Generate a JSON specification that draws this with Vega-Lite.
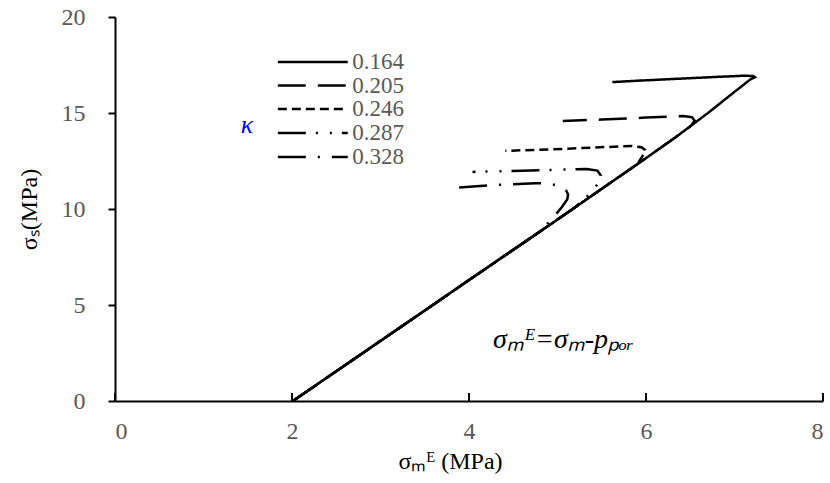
{
  "$schema": "https://vega.github.io/schema/vega-lite/v6.json",
  "width": 708,
  "height": 384,
  "autosize": {"type": "none"},
  "padding": {"left": 115, "top": 17, "right": 7, "bottom": 82},
  "background": "white",
  "config": {"view": {"stroke": null}},
  "datasets": {
    "curves": [
      {"k":"0.164","i":0,"x":2.01,"y":0},{"k":"0.164","i":1,"x":2.5,"y":1.55},{"k":"0.164","i":2,"x":3,"y":3.13},{"k":"0.164","i":3,"x":3.5,"y":4.71},{"k":"0.164","i":4,"x":4,"y":6.3},{"k":"0.164","i":5,"x":4.33,"y":7.34},{"k":"0.164","i":6,"x":4.8,"y":8.82},{"k":"0.164","i":7,"x":5,"y":9.45},{"k":"0.164","i":8,"x":5.2,"y":10.09},{"k":"0.164","i":9,"x":5.5,"y":11.05},{"k":"0.164","i":10,"x":5.84,"y":12.14},{"k":"0.164","i":11,"x":6.0,"y":12.65},{"k":"0.164","i":12,"x":6.33,"y":13.72},{"k":"0.164","i":13,"x":6.7,"y":15.0},{"k":"0.164","i":14,"x":7.0,"y":16.1},{"k":"0.164","i":15,"x":7.18,"y":16.75},{"k":"0.164","i":16,"x":7.23,"y":16.86},{"k":"0.164","i":17,"x":7.21,"y":16.93},{"k":"0.164","i":18,"x":7.1,"y":16.94},{"k":"0.164","i":19,"x":6.8,"y":16.88},{"k":"0.164","i":20,"x":6.3,"y":16.77},{"k":"0.164","i":21,"x":5.9,"y":16.68},{"k":"0.164","i":22,"x":5.62,"y":16.61},

      {"k":"0.205","i":0,"x":2.01,"y":0},{"k":"0.205","i":1,"x":2.5,"y":1.55},{"k":"0.205","i":2,"x":3,"y":3.13},{"k":"0.205","i":3,"x":3.5,"y":4.71},{"k":"0.205","i":4,"x":4,"y":6.3},{"k":"0.205","i":5,"x":4.33,"y":7.34},{"k":"0.205","i":6,"x":4.8,"y":8.82},{"k":"0.205","i":7,"x":5,"y":9.45},{"k":"0.205","i":8,"x":5.2,"y":10.09},{"k":"0.205","i":9,"x":5.5,"y":11.05},{"k":"0.205","i":10,"x":5.84,"y":12.14},{"k":"0.205","i":11,"x":6.0,"y":12.65},{"k":"0.205","i":12,"x":6.33,"y":13.72},{"k":"0.205","i":13,"x":6.5,"y":14.3},{"k":"0.205","i":14,"x":6.55,"y":14.6},{"k":"0.205","i":15,"x":6.52,"y":14.78},{"k":"0.205","i":16,"x":6.42,"y":14.84},{"k":"0.205","i":17,"x":6.0,"y":14.76},{"k":"0.205","i":18,"x":5.5,"y":14.66},{"k":"0.205","i":19,"x":5.06,"y":14.58},

      {"k":"0.246","i":0,"x":2.01,"y":0},{"k":"0.246","i":1,"x":2.5,"y":1.55},{"k":"0.246","i":2,"x":3,"y":3.13},{"k":"0.246","i":3,"x":3.5,"y":4.71},{"k":"0.246","i":4,"x":4,"y":6.3},{"k":"0.246","i":5,"x":4.33,"y":7.34},{"k":"0.246","i":6,"x":4.8,"y":8.82},{"k":"0.246","i":7,"x":5,"y":9.45},{"k":"0.246","i":8,"x":5.2,"y":10.09},{"k":"0.246","i":9,"x":5.5,"y":11.05},{"k":"0.246","i":10,"x":5.84,"y":12.14},{"k":"0.246","i":11,"x":5.91,"y":12.4},{"k":"0.246","i":12,"x":5.96,"y":12.75},{"k":"0.246","i":13,"x":5.99,"y":13.07},{"k":"0.246","i":14,"x":5.95,"y":13.22},{"k":"0.246","i":15,"x":5.84,"y":13.28},{"k":"0.246","i":16,"x":5.4,"y":13.2},{"k":"0.246","i":17,"x":4.9,"y":13.1},{"k":"0.246","i":18,"x":4.41,"y":13.03},

      {"k":"0.287","i":0,"x":2.01,"y":0},{"k":"0.287","i":1,"x":2.5,"y":1.55},{"k":"0.287","i":2,"x":3,"y":3.13},{"k":"0.287","i":3,"x":3.5,"y":4.71},{"k":"0.287","i":4,"x":4,"y":6.3},{"k":"0.287","i":5,"x":4.33,"y":7.34},{"k":"0.287","i":6,"x":4.8,"y":8.82},{"k":"0.287","i":7,"x":5,"y":9.45},{"k":"0.287","i":8,"x":5.2,"y":10.09},{"k":"0.287","i":9,"x":5.3,"y":10.5},{"k":"0.287","i":10,"x":5.39,"y":10.89},{"k":"0.287","i":11,"x":5.46,"y":11.35},{"k":"0.287","i":12,"x":5.49,"y":11.75},{"k":"0.287","i":13,"x":5.45,"y":12.0},{"k":"0.287","i":14,"x":5.33,"y":12.08},{"k":"0.287","i":15,"x":4.7,"y":12.01},{"k":"0.287","i":16,"x":4.04,"y":11.93},

      {"k":"0.328","i":0,"x":2.01,"y":0},{"k":"0.328","i":1,"x":2.5,"y":1.55},{"k":"0.328","i":2,"x":3,"y":3.13},{"k":"0.328","i":3,"x":3.5,"y":4.71},{"k":"0.328","i":4,"x":4,"y":6.3},{"k":"0.328","i":5,"x":4.33,"y":7.34},{"k":"0.328","i":6,"x":4.8,"y":8.82},{"k":"0.328","i":7,"x":4.95,"y":9.55},{"k":"0.328","i":8,"x":5.05,"y":10.1},{"k":"0.328","i":9,"x":5.11,"y":10.5},{"k":"0.328","i":10,"x":5.12,"y":10.75},{"k":"0.328","i":11,"x":5.1,"y":10.95},{"k":"0.328","i":12,"x":5.02,"y":11.2},{"k":"0.328","i":13,"x":4.9,"y":11.33},{"k":"0.328","i":14,"x":4.75,"y":11.34},{"k":"0.328","i":15,"x":4.3,"y":11.25},{"k":"0.328","i":16,"x":3.78,"y":11.09}
    ],
    "legendLines": [
      {"k":"0.164","i":0,"x":1.84,"y":17.66},{"k":"0.164","i":1,"x":2.63,"y":17.66},
      {"k":"0.205","i":0,"x":1.84,"y":16.43},{"k":"0.205","i":1,"x":2.63,"y":16.43},
      {"k":"0.246","i":0,"x":1.84,"y":15.21},{"k":"0.246","i":1,"x":2.63,"y":15.21},
      {"k":"0.287","i":0,"x":1.84,"y":13.96},{"k":"0.287","i":1,"x":2.63,"y":13.96},
      {"k":"0.328","i":0,"x":1.84,"y":12.71},{"k":"0.328","i":1,"x":2.63,"y":12.71}
    ],
    "legendLabels": [
      {"k":"0.164","x":2.68,"y":17.66},
      {"k":"0.205","x":2.68,"y":16.43},
      {"k":"0.246","x":2.68,"y":15.21},
      {"k":"0.287","x":2.68,"y":13.96},
      {"k":"0.328","x":2.68,"y":12.71}
    ],
    "xticks": [{"x":0},{"x":2},{"x":4},{"x":6},{"x":8}],
    "kappa": [{"t":"κ","x":1.49,"y":14.38}],
    "note": [{"t":"σₘᴱ=σₘ-pₚₒᵣ","x":4.27,"y":3.18}]
  },
  "layer": [
    {
      "data": {"name": "curves"},
      "mark": {"type": "line", "color": "black", "strokeWidth": 2.5, "clip": false},
      "encoding": {
        "x": {"field": "x", "type": "quantitative",
          "scale": {"domain": [0, 8], "nice": false},
          "axis": {"values": [0,2,4,6,8], "format": "d", "grid": false, "ticks": false,
            "domainColor": "black", "domainWidth": 2, "labelFont": "Liberation Serif", "labelFontSize": 24,
            "labelColor": "#595959", "labelPadding": 18, "title": "σₘᴱ (MPa)", "titleFont": "Liberation Serif",
            "titleFontSize": 24, "titleFontWeight": "normal", "titleColor": "black", "titlePadding": 6,
            "titleX": 335, "titleAlign": "center"}},
        "y": {"field": "y", "type": "quantitative",
          "scale": {"domain": [0, 20], "nice": false},
          "axis": {"values": [0,5,10,15,20], "format": "d", "grid": false, "tickSize": 7, "tickWidth": 2, "tickColor": "black",
            "domainColor": "black", "domainWidth": 2, "labelFont": "Liberation Serif", "labelFontSize": 24,
            "labelColor": "#595959", "labelPadding": 23, "title": "σₛ(MPa)", "titleFont": "Liberation Serif",
            "titleFontSize": 24, "titleFontWeight": "normal", "titleColor": "black", "titlePadding": 20}},
        "detail": {"field": "k", "type": "nominal"},
        "order": {"field": "i", "type": "quantitative"},
        "strokeDash": {"field": "k", "type": "nominal",
          "scale": {"domain": ["0.164","0.205","0.246","0.287","0.328"],
            "range": [[1,0],[28,12],[9,5],[28,10,2,12,2,10],[28,12,2,12]]},
          "legend": null}
      }
    },
    {
      "data": {"name": "xticks"},
      "mark": {"type": "rule", "color": "black", "strokeWidth": 2},
      "encoding": {
        "x": {"field": "x", "type": "quantitative"},
        "y": {"datum": 0},
        "y2": {"datum": 0.42}
      }
    },
    {
      "data": {"name": "legendLines"},
      "mark": {"type": "line", "color": "black", "strokeWidth": 2.5},
      "encoding": {
        "x": {"field": "x", "type": "quantitative"},
        "y": {"field": "y", "type": "quantitative"},
        "detail": {"field": "k", "type": "nominal"},
        "order": {"field": "i", "type": "quantitative"},
        "strokeDash": {"field": "k", "type": "nominal", "legend": null}
      }
    },
    {
      "data": {"name": "legendLabels"},
      "mark": {"type": "text", "align": "left", "baseline": "middle", "font": "Liberation Serif", "fontSize": 23, "color": "#595959"},
      "encoding": {
        "x": {"field": "x", "type": "quantitative"},
        "y": {"field": "y", "type": "quantitative"},
        "text": {"field": "k"}
      }
    },
    {
      "data": {"name": "kappa"},
      "mark": {"type": "text", "align": "center", "baseline": "middle", "font": "Liberation Serif", "fontStyle": "italic", "fontSize": 26, "color": "#0000FF"},
      "encoding": {
        "x": {"field": "x", "type": "quantitative"},
        "y": {"field": "y", "type": "quantitative"},
        "text": {"field": "t"}
      }
    },
    {
      "data": {"name": "note"},
      "mark": {"type": "text", "align": "left", "baseline": "middle", "font": "Liberation Serif", "fontStyle": "italic", "fontSize": 28, "color": "black"},
      "encoding": {
        "x": {"field": "x", "type": "quantitative"},
        "y": {"field": "y", "type": "quantitative"},
        "text": {"field": "t"}
      }
    }
  ]
}
